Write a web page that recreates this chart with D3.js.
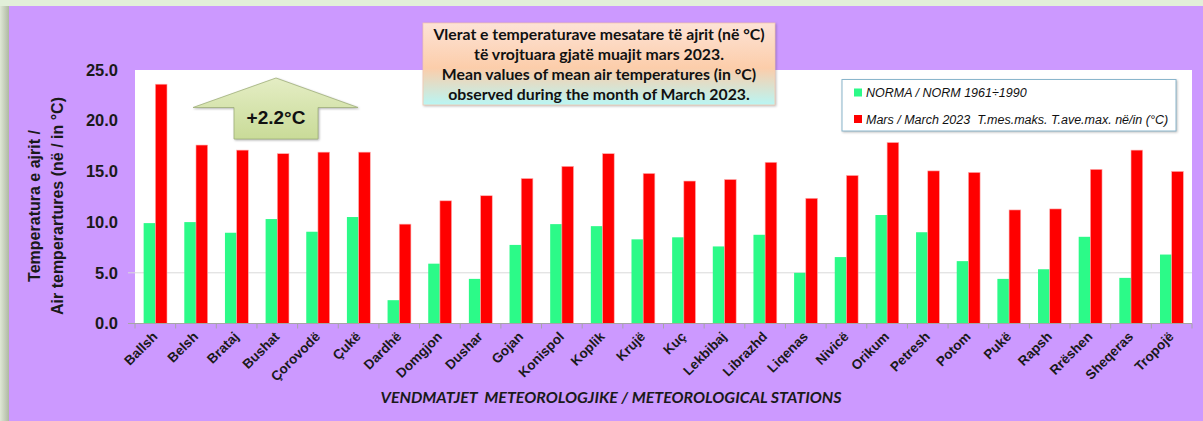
<!DOCTYPE html>
<html>
<head>
<meta charset="utf-8">
<script src="https://cdn.jsdelivr.net/npm/d3@7"></script>
<style>
  body { margin: 0; background: #e2efd9; }
  svg { display: block; }
</style>
</head>
<body>
<div id="chart"></div>
<script>
// stations and values
var stations = ["Ballsh", "Belsh", "Brataj", "Bushat", "Çorovodë", "Çukë", "Dardhë", "Domgjon",
  "Dushar", "Gojan", "Konispol", "Koplik", "Krujë", "Kuç", "Lekbibaj", "Librazhd", "Liqenas",
  "Nivicë", "Orikum", "Petresh", "Potom", "Pukë", "Rapsh", "Rrëshen", "Sheqeras", "Tropojë"];

var norma = [9.9, 10.0, 8.95, 10.3, 9.05, 10.5, 2.3, 5.9, 4.4, 7.75, 9.8, 9.6, 8.3, 8.5,
  7.6, 8.75, 5.0, 6.55, 10.7, 9.0, 6.15, 4.4, 5.35, 8.55, 4.5, 6.8];

var mars2023 = [23.6, 17.6, 17.1, 16.75, 16.9, 16.9, 9.8, 12.1, 12.6, 14.3, 15.5, 16.75, 14.8,
  14.05, 14.2, 15.9, 12.35, 14.6, 17.85, 15.05, 14.9, 11.2, 11.3, 15.2, 17.1, 15.0];

var yTicks = [0, 5, 10, 15, 20, 25];
var seriesNames = ["NORMA / NORM 1961÷1990", "Mars / March 2023  T.mes.maks. T.ave.max. në/in (°C)"];
var titleLines = ["Vlerat e temperaturave mesatare të ajrit (në °C)",
  "të vrojtuara gjatë muajit mars 2023.",
  "Mean values of mean air temperatures (in °C)",
  "observed during the month of March 2023."];
var anomalyLabel = "+2.2°C";

var svgWidth = 1203;
var svgHeight = 421;

var plot = { left: 135, right: 1192, top: 70, bottom: 323.5 };

var svg = d3.select("#chart")
  .append("svg")
  .attr("width", svgWidth)
  .attr("height", svgHeight);

var defs = svg.append("defs");

var shadowGrad = defs.append("linearGradient").attr("id", "leftShadow")
  .attr("x1", 0).attr("x2", 1).attr("y1", 0).attr("y2", 0);
shadowGrad.append("stop").attr("offset", "0%").attr("stop-color", "#dfe8d6");
shadowGrad.append("stop").attr("offset", "100%").attr("stop-color", "#a9b39c");

var titleGrad = defs.append("linearGradient").attr("id", "titleGrad")
  .attr("x1", 0).attr("x2", 0).attr("y1", 0).attr("y2", 1);
titleGrad.append("stop").attr("offset", "0%").attr("stop-color", "#fde3d6");
titleGrad.append("stop").attr("offset", "55%").attr("stop-color", "#fccdaa");
titleGrad.append("stop").attr("offset", "100%").attr("stop-color", "#b9f6f4");

var arrowGrad = defs.append("linearGradient").attr("id", "arrowGrad")
  .attr("x1", 0).attr("x2", 0).attr("y1", 0).attr("y2", 1);
arrowGrad.append("stop").attr("offset", "0%").attr("stop-color", "#e4edc4");
arrowGrad.append("stop").attr("offset", "100%").attr("stop-color", "#c9db98");

// background panel
svg.append("rect")
  .attr("x", 0).attr("y", 6).attr("width", 10).attr("height", svgHeight - 6)
  .attr("fill", "url(#leftShadow)");
svg.append("rect")
  .attr("x", 9).attr("y", 6).attr("width", svgWidth - 9).attr("height", svgHeight - 6)
  .attr("fill", "#cc99ff");

// plot area
svg.append("rect")
  .attr("x", plot.left).attr("y", plot.top)
  .attr("width", plot.right - plot.left).attr("height", plot.bottom - plot.top)
  .attr("fill", "#ffffff");

// scales
var x0 = d3.scaleBand()
  .domain(stations)
  .range([plot.left, plot.right])
  .padding(0);

var x1 = d3.scaleBand()
  .domain(["norma", "mars"])
  .range([0, x0.bandwidth()])
  .paddingInner(0)
  .paddingOuter(0.74);

var y = d3.scaleLinear()
  .domain([0, 25])
  .range([plot.bottom, plot.top]);

// gridline at 5
svg.append("line")
  .attr("x1", plot.left - 7).attr("x2", plot.right)
  .attr("y1", y(5)).attr("y2", y(5))
  .attr("stroke", "#d9d9d9").attr("stroke-width", 1);

// y axis labels
var yAxis = d3.axisLeft(y)
  .tickValues(yTicks)
  .tickFormat(d3.format(".1f"))
  .tickSize(0)
  .tickPadding(17);

var yAxisG = svg.append("g")
  .attr("transform", `translate(${plot.left}, 0)`)
  .call(yAxis);
yAxisG.select(".domain").remove();
yAxisG.selectAll("text")
  .attr("font-family", "Liberation Sans, Arial, sans-serif")
  .attr("font-weight", "bold")
  .attr("font-size", 16.5)
  .attr("fill", "#1a1a1a");

// bars
var data = stations.map(function(s, i) {
  return { station: s, norma: norma[i], mars: mars2023[i] };
});

var groups = svg.selectAll(".station")
  .data(data)
  .enter()
  .append("g")
  .attr("transform", d => `translate(${x0(d.station)}, 0)`);

groups.append("rect")
  .attr("x", x1("norma"))
  .attr("y", d => y(d.norma))
  .attr("width", x1.bandwidth())
  .attr("height", d => y(0) - y(d.norma))
  .attr("fill", "#2cfa88");

groups.append("rect")
  .attr("x", x1("mars"))
  .attr("y", d => y(d.mars))
  .attr("width", x1.bandwidth())
  .attr("height", d => y(0) - y(d.mars))
  .attr("fill", "#ff0000")
  .attr("stroke", "#ffb0b0")
  .attr("stroke-width", 0.6);

// x axis
var xAxis = d3.axisBottom(x0).tickSize(0).tickFormat("");
var xAxisG = svg.append("g")
  .attr("transform", `translate(0, ${plot.bottom})`)
  .call(xAxis);
xAxisG.select(".domain").attr("stroke", "#a6a6a6").attr("d", `M${plot.left - 7},0H${plot.right}`);

// category boundary ticks
svg.selectAll(".xtick")
  .data(stations.concat(["end"]))
  .enter()
  .append("line")
  .attr("x1", (d, i) => plot.left + i * x0.step())
  .attr("x2", (d, i) => plot.left + i * x0.step())
  .attr("y1", plot.bottom)
  .attr("y2", plot.bottom + 5)
  .attr("stroke", "#a6a6a6");

// rotated station labels
svg.selectAll(".xlabel")
  .data(stations)
  .enter()
  .append("text")
  .attr("text-anchor", "end")
  .attr("transform", d => `translate(${x0(d) + x0.bandwidth() / 2 + 3}, ${plot.bottom + 14}) rotate(-45)`)
  .attr("font-family", "Liberation Sans, Arial, sans-serif")
  .attr("font-weight", "bold")
  .attr("font-size", 13.5)
  .attr("fill", "#1a1a1a")
  .text(d => d);

// axis titles
var yTitle = svg.append("text")
  .attr("transform", "translate(46, 206) rotate(-90)")
  .attr("text-anchor", "middle")
  .attr("font-family", "Liberation Sans, Arial, sans-serif")
  .attr("font-weight", "bold")
  .attr("font-size", 16)
  .attr("fill", "#1a1a1a");
yTitle.append("tspan").attr("x", 0).attr("dy", -6).text("Temperatura e ajrit /");
yTitle.append("tspan").attr("x", 0).attr("dy", 23).text("Air temperartures (në / in °C)");

svg.append("text")
  .attr("x", 611).attr("y", 403)
  .attr("text-anchor", "middle")
  .attr("font-family", "Lato, sans-serif")
  .attr("font-weight", "bold")
  .attr("font-style", "italic")
  .attr("font-size", 16)
  .attr("fill", "#1a1a1a")
  .style("white-space", "pre")
  .text("VENDMATJET  METEOROLOGJIKE / METEOROLOGICAL STATIONS");

// title box
svg.append("rect")
  .attr("x", 423).attr("y", 23).attr("width", 352).attr("height", 82)
  .attr("fill", "url(#titleGrad)")
  .attr("stroke", "#f4c9b0").attr("stroke-width", 0.8)
  .style("filter", "drop-shadow(1px 1px 1px rgba(0,0,0,0.25))");

svg.selectAll(".title")
  .data(titleLines)
  .enter()
  .append("text")
  .attr("x", 599)
  .attr("y", (d, i) => 40 + i * 20)
  .attr("text-anchor", "middle")
  .attr("font-family", "Lato, sans-serif")
  .attr("font-weight", "bold")
  .attr("font-size", 15.8)
  .attr("fill", "#111")
  .text(d => d);

// anomaly arrow
svg.append("path")
  .attr("d", "M276,78 L358,107.5 L318,107.5 L318,139 L234,139 L234,107.5 L193,107.5 Z")
  .attr("fill", "url(#arrowGrad)")
  .attr("stroke", "#9fb07a").attr("stroke-width", 0.8)
  .style("filter", "drop-shadow(1px 1px 1px rgba(0,0,0,0.3))");

svg.append("text")
  .attr("x", 276).attr("y", 124)
  .attr("text-anchor", "middle")
  .attr("font-family", "Liberation Sans, Arial, sans-serif")
  .attr("font-weight", "bold")
  .attr("font-size", 19)
  .attr("fill", "#111")
  .text(anomalyLabel);

// legend
svg.append("rect")
  .attr("x", 842).attr("y", 79.5).attr("width", 334).attr("height", 51.5)
  .attr("fill", "#ffffff")
  .attr("stroke", "#8ab6cc").attr("stroke-width", 1)
  .style("filter", "drop-shadow(1px 1px 1px rgba(0,0,0,0.25))");

var legendColors = ["#2cfa88", "#ff0000"];
var legend = svg.selectAll(".legend")
  .data(seriesNames)
  .enter()
  .append("g")
  .attr("transform", (d, i) => `translate(854, ${92.5 + i * 26.5})`);

legend.append("rect")
  .attr("x", 0).attr("y", -4).attr("width", 8).attr("height", 8)
  .attr("fill", (d, i) => legendColors[i]);

legend.append("text")
  .attr("x", 12).attr("y", 4.5)
  .attr("font-family", "Liberation Sans, Arial, sans-serif")
  .attr("font-style", "italic")
  .attr("font-size", 12.5)
  .attr("fill", "#111")
  .style("white-space", "pre")
  .text(d => d);
</script>
</body>
</html>
